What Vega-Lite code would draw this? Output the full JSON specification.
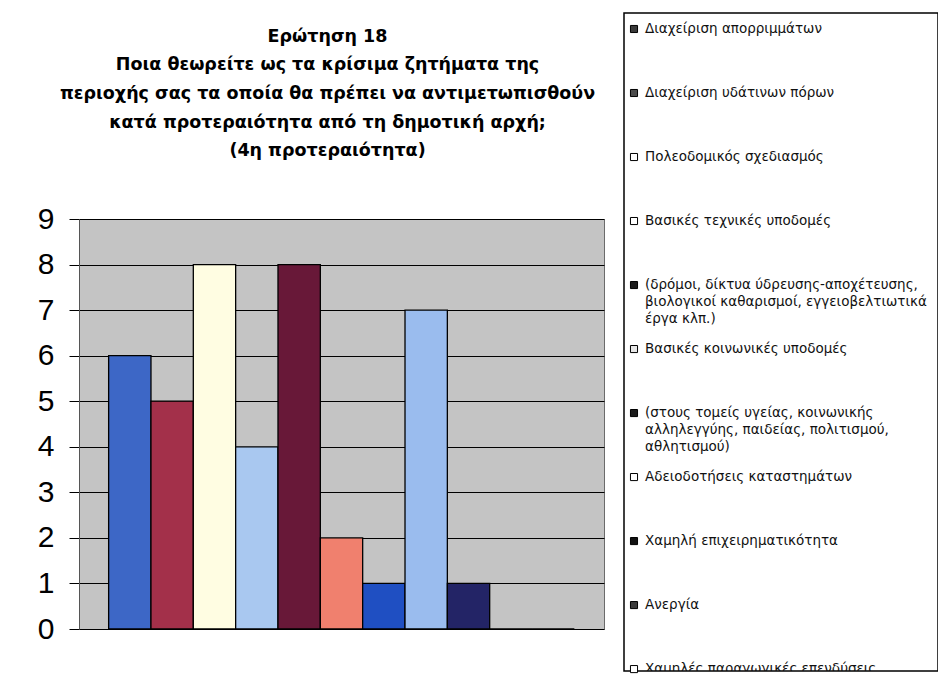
{
  "$schema": "https://vega.github.io/schema/vega-lite/v6.json",
  "background": "white",
  "padding": {"left": 36, "top": 12, "right": 0, "bottom": 0},
  "spacing": 18,
  "datasets": {
    "items": [
      {"i": 1, "value": 6, "label": "Διαχείριση απορριμμάτων"},
      {"i": 2, "value": 5, "label": "Διαχείριση υδάτινων πόρων"},
      {"i": 3, "value": 8, "label": "Πολεοδομικός σχεδιασμός"},
      {"i": 4, "value": 4, "label": "Βασικές τεχνικές υποδομές"},
      {"i": 5, "value": 8, "label": "(δρόμοι, δίκτυα ύδρευσης-αποχέτευσης,\nβιολογικοί καθαρισμοί, εγγειοβελτιωτικά\nέργα κλπ.)"},
      {"i": 6, "value": 2, "label": "Βασικές κοινωνικές υποδομές"},
      {"i": 7, "value": 1, "label": "(στους τομείς υγείας, κοινωνικής\nαλληλεγγύης, παιδείας, πολιτισμού,\nαθλητισμού)"},
      {"i": 8, "value": 7, "label": "Αδειοδοτήσεις καταστημάτων"},
      {"i": 9, "value": 1, "label": "Χαμηλή επιχειρηματικότητα"},
      {"i": 10, "value": 0, "label": "Ανεργία"},
      {"i": 11, "value": 0, "label": "Χαμηλές παραγωγικές επενδύσεις"}
    ]
  },
  "hconcat": [
    {
      "spacing": 0,
      "vconcat": [
        {
          "width": 525,
          "height": 14,
          "view": {"stroke": null, "fill": null},
          "data": {"values": []},
          "mark": {"type": "rule", "opacity": 0},
          "encoding": {}
        },
        {
          "width": 525,
          "height": 410,
          "view": {"fill": "#C4C4C4", "stroke": "#6b6b6b"},
          "title": {
            "text": [
              "Ερώτηση 18",
              "Ποια θεωρείτε ως τα κρίσιμα ζητήματα της",
              "περιοχής σας τα οποία θα πρέπει να αντιμετωπισθούν",
              "κατά προτεραιότητα από τη δημοτική αρχή;",
              "(4η προτεραιότητα)"
            ],
            "font": "DejaVu Sans",
            "fontSize": 17.5,
            "fontWeight": "bold",
            "color": "#000",
            "lineHeight": 28.7,
            "anchor": "middle",
            "dx": -14,
            "offset": 44
          },
          "data": {"name": "items"},
          "mark": {"type": "bar", "stroke": "#000", "strokeWidth": 1.3},
          "encoding": {
            "x": {
              "field": "i",
              "type": "ordinal",
              "scale": {"paddingInner": 0, "paddingOuter": 0.7},
              "axis": null
            },
            "y": {
              "field": "value",
              "type": "quantitative",
              "scale": {"domain": [0, 9], "nice": false},
              "axis": {
                "title": null,
                "values": [0, 1, 2, 3, 4, 5, 6, 7, 8, 9],
                "tickSize": 10,
                "tickColor": "#000",
                "tickWidth": 1,
                "labelFont": "Liberation Sans",
                "labelFontSize": 30,
                "labelColor": "#000",
                "labelPadding": 15,
                "labelFlush": false,
                "labelOverlap": false,
                "grid": true,
                "gridColor": "#000",
                "gridWidth": 1,
                "gridOpacity": 1,
                "domainColor": "#555"
              }
            },
            "color": {
              "field": "i",
              "type": "nominal",
              "scale": {
                "domain": [1, 2, 3, 4, 5, 6, 7, 8, 9, 10, 11],
                "range": ["#3D67C6", "#A3304A", "#FFFDE2", "#A9C8F0", "#681838", "#F0806E", "#1F4FC2", "#9ABCEE", "#232466", "#8B2252", "#FFFFE0"]
              },
              "legend": null
            }
          }
        }
      ]
    },
    {
      "width": 314,
      "height": 658,
      "view": {"fill": "#ffffff", "stroke": "#000", "strokeWidth": 1.5},
      "data": {"name": "items"},
      "encoding": {
        "y": {
          "field": "i",
          "type": "quantitative",
          "scale": {"domain": [0.75, 11.03], "reverse": true, "nice": false, "zero": false},
          "axis": null
        },
        "x": {
          "datum": 0,
          "type": "quantitative",
          "scale": {"domain": [-1, 30.4], "nice": false, "zero": false},
          "axis": null
        }
      },
      "layer": [
        {
          "mark": {"type": "point", "shape": "square", "filled": true, "size": 50, "stroke": "#000", "strokeWidth": 1, "opacity": 1},
          "encoding": {
            "color": {
              "field": "i",
              "type": "nominal",
              "scale": {
                "domain": [1, 2, 3, 4, 5, 6, 7, 8, 9, 10, 11],
                "range": ["#3a3a3a", "#4a4a4a", "#ffffff", "#ffffff", "#1a1a1a", "#e6e6e6", "#1a1a1a", "#ffffff", "#111111", "#3a3a3a", "#ffffff"]
              },
              "legend": null
            }
          }
        },
        {
          "mark": {
            "type": "text",
            "align": "left",
            "baseline": "alphabetic",
            "dx": 11,
            "dy": 4,
            "font": "DejaVu Sans",
            "fontSize": 13.5,
            "lineBreak": "\n",
            "lineHeight": 17,
            "color": "#111111",
            "clip": true
          },
          "encoding": {
            "text": {"field": "label"}
          }
        }
      ]
    }
  ],
  "resolve": {"scale": {"color": "independent"}}
}
